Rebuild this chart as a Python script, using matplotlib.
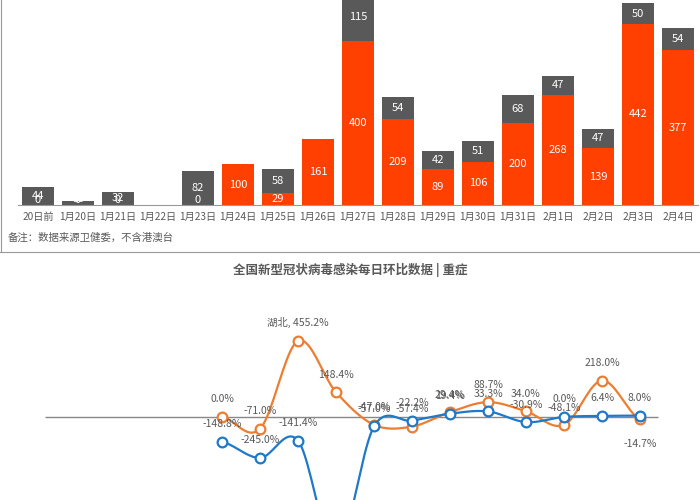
import numpy as np
import matplotlib
matplotlib.use("Agg")
import matplotlib.pyplot as plt
from matplotlib.lines import Line2D

plt.rcParams["font.family"] = ["Noto Sans CJK SC", "DejaVu Sans"]

categories = ["20日前", "1月20日", "1月21日", "1月22日", "1月23日", "1月24日", "1月25日", "1月26日",
              "1月27日", "1月28日", "1月29日", "1月30日", "1月31日", "2月1日", "2月2日", "2月3日", "2月4日"]
orange_vals = [0, 0, 0, 0, 0, 100, 29, 161, 400, 209, 89, 106, 200, 268, 139, 442, 377]
gray_vals = [44, 10, 32, 0, 82, 0, 58, 0, 115, 54, 42, 51, 68, 47, 47, 50, 54]

hubei_pct = [0.0, -71.0, 455.2, 148.4, -47.0, -57.4, 29.4, 88.7, 34.0, -48.1, 218.0, -14.7]
nation_pct = [-148.8, -245.0, -141.4, -800.0, -57.0, -22.2, 19.4, 33.3, -30.9, 0.0, 6.4, 8.0]

RED = "#FF4000"
GRAY = "#595959"
OR = "#ED7D31"
BL = "#1F78C8"
TXT = "#595959"

fig = plt.figure(figsize=(7, 5), dpi=100)

# top bar chart
ax = fig.add_axes([18/700, 295/500, 680/700, 205/500])
x = np.arange(len(categories))
ax.bar(x, orange_vals, width=0.8, color=RED)
ax.bar(x, gray_vals, width=0.8, bottom=orange_vals, color=GRAY)
for i in x:
    o, g = orange_vals[i], gray_vals[i]
    if o > 0 or g > 0 or i == 3:
        ax.text(i, o / 2 if o > 0 else 1, str(o), ha="center",
                va="center" if o > 0 else "bottom", color="white", fontsize=8)
    if g > 0:
        ax.text(i, o + g / 2 if g > 20 else o + 2, str(g), ha="center",
                va="center" if g > 20 else "bottom", color="white", fontsize=8)
ax.set_xlim(-0.5, len(categories) - 0.5)
ax.set_ylim(0, 500)
ax.set_xticks(x)
ax.set_xticklabels(categories, fontsize=7.3, color=TXT)
ax.tick_params(axis="x", length=0, pad=5)
ax.set_yticks([])
for s in ["top", "right", "left"]:
    ax.spines[s].set_visible(False)
ax.spines["bottom"].set_color("#999999")

fig.text(8/700, 1 - 238/500, "备注：数据来源卫健委，不含港澳台", fontsize=7.5, color=TXT, va="center")
fig.add_artist(Line2D([0, 1], [1 - 252/500] * 2, color="#999999", lw=0.8))
fig.add_artist(Line2D([1/700, 1/700], [1 - 252/500, 1], color="#999999", lw=0.8))

fig.text(0.5, 1 - 270/500, "全国新型冠状病毒感染每日环比数据 | 重症", fontsize=9, fontweight="bold",
         color=TXT, ha="center", va="center")

# bottom line chart
ax2 = fig.add_axes([0, 0, 1, 210/500])
ax2.set_xlim(-222/38, (700-222)/38)
ax2.set_ylim(-497, 760)
ax2.axis("off")
ax2.hlines(0, (45-222)/38, (658-222)/38, color="#888888", lw=1)

def smooth(ys, n=20):
    ys = np.asarray(ys, float)
    p = np.concatenate([[ys[0]], ys, [ys[-1]]])
    xs_out, ys_out = [], []
    for i in range(len(ys) - 1):
        p0, p1, p2, p3 = p[i], p[i+1], p[i+2], p[i+3]
        t = np.linspace(0, 1, n, endpoint=False)
        y = 0.5 * ((2*p1) + (-p0 + p2)*t + (2*p0 - 5*p1 + 4*p2 - p3)*t**2 + (-p0 + 3*p1 - 3*p2 + p3)*t**3)
        xs_out.append(i + t)
        ys_out.append(y)
    xs_out.append([len(ys) - 1]); ys_out.append([ys[-1]])
    return np.concatenate(xs_out), np.concatenate(ys_out)

xi = np.arange(len(hubei_pct))
for vals, c in [(hubei_pct, OR), (nation_pct, BL)]:
    sx, sy = smooth(vals)
    ax2.plot(sx, sy, color=c, lw=1.6, clip_on=True)
    ax2.plot(xi, vals, "o", ms=7, mfc="white", mec=c, mew=1.6)

for i, v in enumerate(hubei_pct):
    lab = f"{v:.1f}%"
    if i == 2:
        lab = "湖北, " + lab
    off = -14 if i == len(hubei_pct) - 1 else 9
    ax2.annotate(lab, (i, v), xytext=(0, off), textcoords="offset points", ha="center",
                 va="bottom" if off > 0 else "top", fontsize=7.5, color=TXT)
for i, v in enumerate(nation_pct):
    if i == 3:
        continue
    ax2.annotate(f"{v:.1f}%", (i, v), xytext=(0, 9), textcoords="offset points", ha="center",
                 va="bottom", fontsize=7.5, color=TXT)

fig.savefig("out.png", dpi=100)
